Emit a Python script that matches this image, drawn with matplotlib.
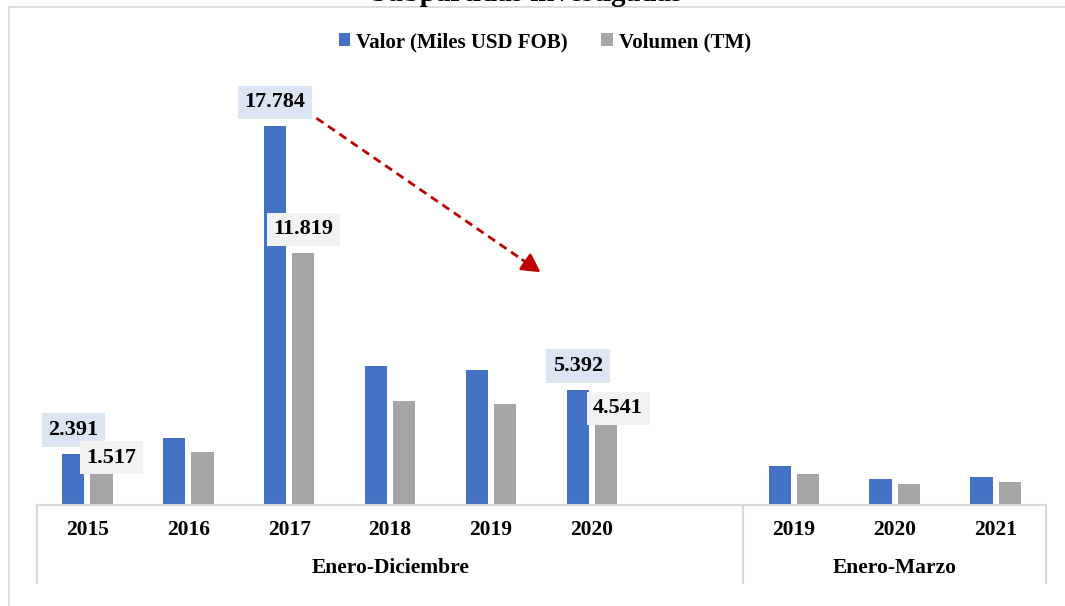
import matplotlib
matplotlib.use("Agg")
import matplotlib.pyplot as plt
from matplotlib.patches import Rectangle, Patch

plt.rcParams['font.family'] = ['Liberation Serif', 'DejaVu Serif']
plt.rcParams['font.weight'] = 'bold'

# ---- data ----
years = ["2015", "2016", "2017", "2018", "2019", "2020", "2019", "2020", "2021"]
groups = ["Enero-Diciembre", "Enero-Marzo"]
group_sizes = [6, 3]
valor = [2391, 3140, 17784, 6520, 6330, 5392, 1830, 1220, 1310]
volumen = [1517, 2490, 11819, 4880, 4740, 4541, 1450, 990, 1080]
series_names = ["Valor (Miles USD FOB)", "Volumen (TM)"]
labels_valor = {0: "2.391", 2: "17.784", 5: "5.392"}
labels_volumen = {0: "1.517", 2: "11.819", 5: "4.541"}
title = "Subpartidas investigadas"

BLUE = "#4472C4"
GRAY = "#A5A5A5"
LINE = "#D9D9D9"

W, H = 1065, 606
fig = plt.figure(figsize=(W / 100, H / 100), dpi=100)

# axes geometry (pixels)
x_left, x_right = 37, 1046
y_base, y_top = 505, 79
ax = fig.add_axes([x_left / W, (H - y_base) / H, (x_right - x_left) / W, (y_base - y_top) / H])
ymax = 20000
ax.set_ylim(0, ymax)
ax.set_xlim(-0.5, 9.5)
ax.axis('off')

# positions: 6 slots, one empty slot, 3 slots
pos = list(range(group_sizes[0])) + [group_sizes[0] + 1 + i for i in range(group_sizes[1])]
off = 0.14
bw = 0.22
ax.bar([p - off for p in pos], valor, width=bw, color=BLUE, zorder=2)
ax.bar([p + off for p in pos], volumen, width=bw, color=GRAY, zorder=2)

# axis line
tr = ax.get_xaxis_transform()
ax.plot([-0.5, 9.5], [0, 0], color=LINE, lw=1.5, transform=tr, clip_on=False, zorder=3)
sep = group_sizes[0] + 0.5
for xv in [-0.5, sep, 9.5]:
    ax.plot([xv, xv], [0, -0.182], color=LINE, lw=1.5, transform=tr, clip_on=False)

FS = 15.5
# tick labels
for p, yl in zip(pos, years):
    ax.text(p, -0.059, yl, transform=tr, ha='center', va='center', fontsize=FS, fontweight='bold')
ax.text((-0.5 + sep) / 2, -0.148, groups[0], transform=tr, ha='center', va='center', fontsize=FS, fontweight='bold')
ax.text((sep + 9.5) / 2, -0.148, groups[1], transform=tr, ha='center', va='center', fontsize=FS, fontweight='bold')

# data labels
px_per_unit = (y_base - y_top) / ymax
def dy(px):
    return px / px_per_unit

for i, t in labels_valor.items():
    ax.text(pos[i] - off, valor[i] + dy(24), t, ha='center', va='center', fontsize=16, fontweight='bold',
            bbox=dict(boxstyle='square,pad=0.3', fc='#DCE6F2', ec='none'), zorder=4)
for i, t in labels_volumen.items():
    dx = 0.0
    yy = volumen[i] + dy(24)
    if i == 0:
        dx = 0.10
        yy = volumen[i] + dy(15)
    if i == 5:
        dx = 0.12
        yy = volumen[i]
    ax.text(pos[i] + off + dx, yy, t, ha='center', va='center', fontsize=16, fontweight='bold',
            bbox=dict(boxstyle='square,pad=0.3', fc='#F2F2F2', ec='none'), zorder=4)

# trend arrow: dashed shaft + solid head
x0, y0, x1, y1 = 2.27, 18160, 4.49, 10930
frac = 0.92
xm, ym = x0 + (x1 - x0) * frac, y0 + (y1 - y0) * frac
ax.plot([x0, xm], [y0, ym], color='#C00000', lw=2, linestyle=(0, (3, 2)))
ax.annotate("", xy=(x1, y1), xytext=(xm, ym),
            arrowprops=dict(arrowstyle='-|>,head_length=1.1,head_width=0.6', color='#C00000',
                            lw=2, shrinkA=0, shrinkB=0))

# legend
handles = [Patch(facecolor=BLUE, edgecolor='none'), Patch(facecolor=GRAY, edgecolor='none')]
fig.legend(handles, series_names, loc='center', bbox_to_anchor=(545 / W, 1 - 42 / H), ncol=2,
           frameon=False, handlelength=0.55, handleheight=0.55, handletextpad=0.3,
           columnspacing=1.6, prop={'weight': 'bold', 'size': 15})

# title (cut off at top, as in the reference)
fig.text(527 / W, 1 - 1 / H, title, ha='center', va='baseline', fontsize=21, fontweight='bold')

# outer frame
fig.patches.append(Rectangle((9 / W, -0.1), 1.2, (H - 7) / H + 0.1, transform=fig.transFigure,
                             fill=False, ec=LINE, lw=1.2))

fig.savefig("out.png", dpi=100, facecolor='white')
